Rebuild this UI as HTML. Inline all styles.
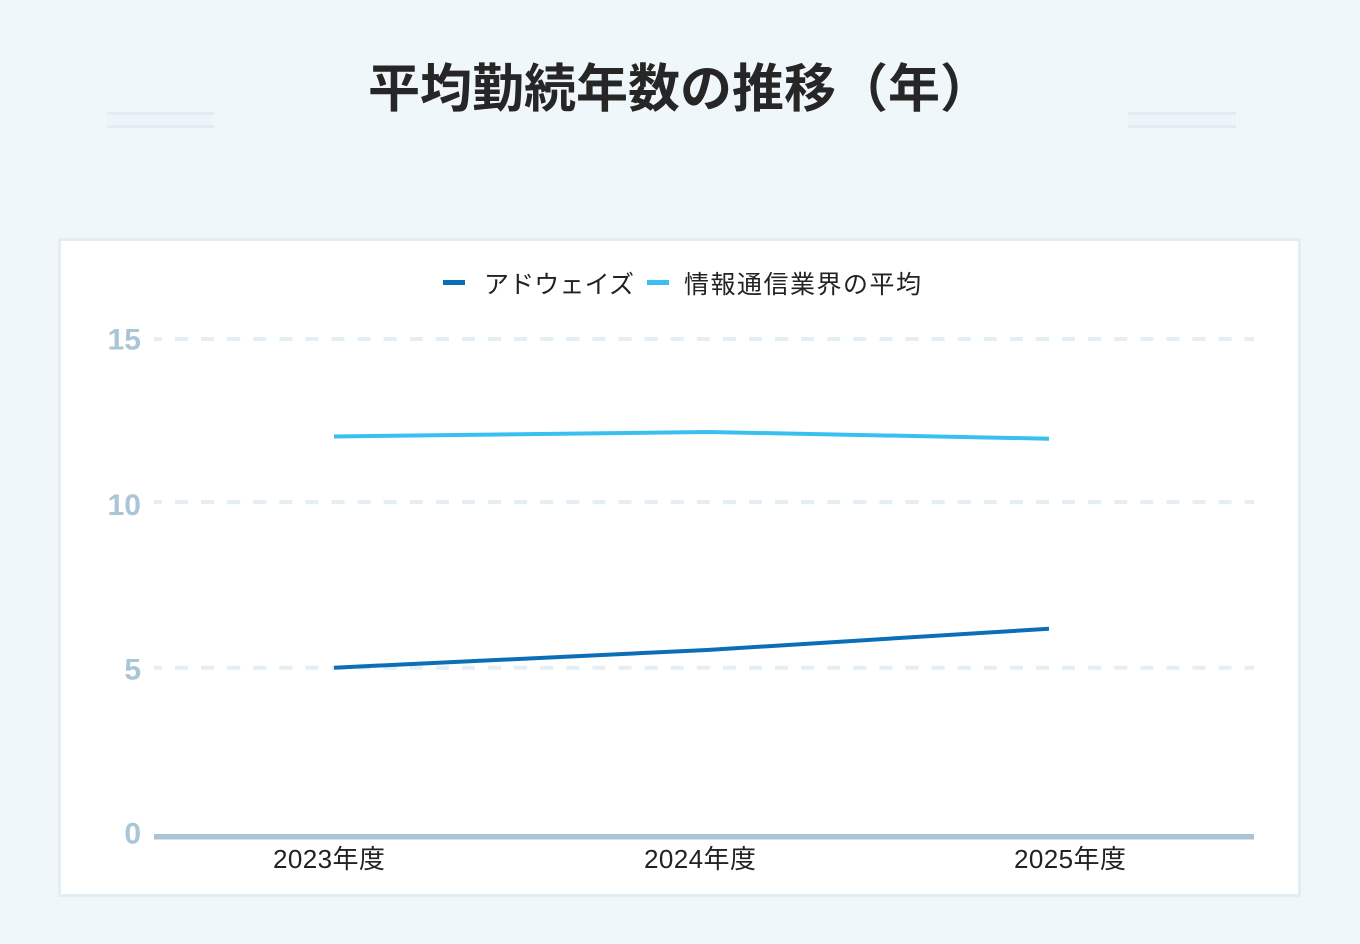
<!DOCTYPE html>
<html lang="ja">
<head>
<meta charset="utf-8">
<style>
  html, body { margin: 0; padding: 0; background: #f0f7fb; }
  svg { display: block; }
  text { font-family: "Liberation Sans", "Noto Sans CJK JP", sans-serif; }
</style>
</head>
<body>
<svg width="1360" height="944" viewBox="0 0 1360 944" xmlns="http://www.w3.org/2000/svg">
  <rect x="0" y="0" width="1360" height="944" fill="#f0f7fb"/>

  <!-- Title -->
  <text x="680" y="107" text-anchor="middle" font-size="52" font-weight="bold" fill="#262626">平均勤続年数の推移（年）</text>

  <!-- decorative lines -->
  <rect x="107" y="112" width="107" height="16" fill="#edf5fa"/>
  <rect x="107" y="112" width="107" height="3" fill="#e2ecf3"/>
  <rect x="107" y="125" width="107" height="3" fill="#e2ecf3"/>
  <rect x="1128" y="112" width="108" height="16" fill="#edf5fa"/>
  <rect x="1128" y="112" width="108" height="3" fill="#e2ecf3"/>
  <rect x="1128" y="125" width="108" height="3" fill="#e2ecf3"/>

  <!-- Card -->
  <rect x="59.5" y="239.5" width="1240" height="656" fill="#ffffff" stroke="#e2eef4" stroke-width="3"/>

  <!-- Legend -->
  <rect x="443" y="280" width="22" height="5" fill="#0a6fb6"/>
  <text x="484" y="293" font-size="25" fill="#222" textLength="150" lengthAdjust="spacing">アドウェイズ</text>
  <rect x="647" y="280" width="22" height="5" fill="#3ac0f0"/>
  <text x="684" y="293" font-size="25" fill="#222" textLength="237" lengthAdjust="spacing">情報通信業界の平均</text>

  <!-- Gridlines -->
  <g stroke="#e4eef5" stroke-width="4" stroke-dasharray="13 13.09" stroke-dashoffset="5.1" fill="none">
    <line x1="154" y1="339" x2="1254" y2="339"/>
    <line x1="154" y1="502" x2="1254" y2="502"/>
    <line x1="154" y1="667.7" x2="1254" y2="667.7"/>
  </g>

  <!-- Y labels -->
  <g font-size="30" font-weight="bold" fill="#a9c5d6" text-anchor="end">
    <text x="141" y="349.5">15</text>
    <text x="141" y="515">10</text>
    <text x="141" y="679.5">5</text>
    <text x="141" y="843.5">0</text>
  </g>

  <!-- X axis -->
  <rect x="154" y="834" width="1100" height="5.5" fill="#a9c4d6"/>

  <!-- X labels -->
  <g font-size="26" fill="#222" text-anchor="middle">
    <text x="329" y="868" textLength="112" lengthAdjust="spacing">2023年度</text>
    <text x="700" y="868" textLength="112" lengthAdjust="spacing">2024年度</text>
    <text x="1070" y="868" textLength="112" lengthAdjust="spacing">2025年度</text>
  </g>

  <!-- Series -->
  <polyline points="334,436.5 708,432 1049,438.7" fill="none" stroke="#3ac0f0" stroke-width="4" stroke-linejoin="round"/>
  <polyline points="334,667.7 707,650 1049,628.7" fill="none" stroke="#0a6fb6" stroke-width="4" stroke-linejoin="round"/>
</svg>
</body>
</html>
